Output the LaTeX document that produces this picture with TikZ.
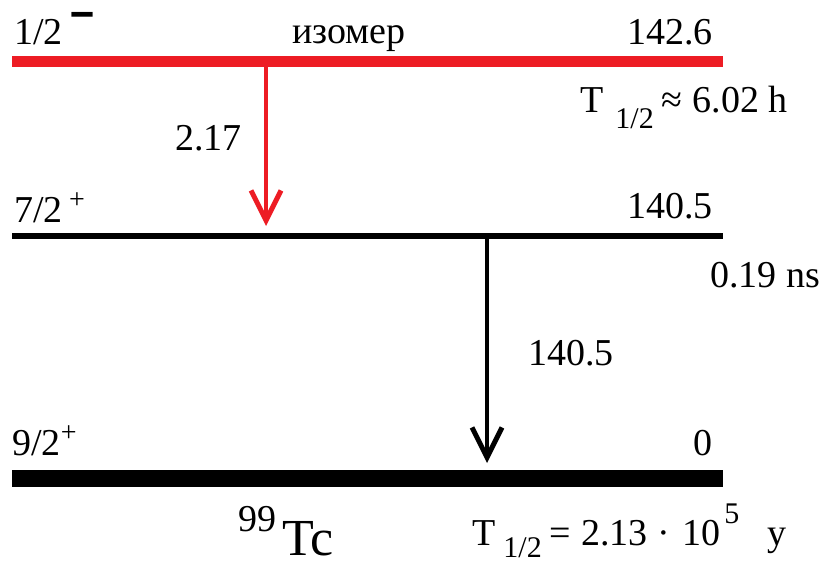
\documentclass[tikz,border=0pt]{standalone}
\usepackage{fontspec}
\newfontfamily\libser{Liberation Serif}
\usepackage{xcolor}
\usetikzlibrary{arrows.meta, positioning}
\definecolor{isored}{HTML}{ED1C24}

\begin{document}
\begin{tikzpicture}[x=1pt, y=-1pt, every node/.style={inner sep=0pt, anchor=base west, font=\libser\fontsize{38}{42}\selectfont}, gam/.style={line width=4pt, -{Straight Barb[length=30pt, width=30pt, line width=5pt]}}]
    \useasboundingbox (0,0) rectangle (823,562);

    % Levels
    \draw[isored, line width=11pt] (12,61) coordinate (iso-l) -- (723,61) coordinate (iso-r);
    \draw[line width=6pt] (12,236) coordinate (mid-l) -- (723,236) coordinate (mid-r);
    \draw[line width=17pt] (12,478) coordinate (gs-l) -- (723,478) coordinate (gs-r);

    % Spins
    \node (jp1) at (14,45) {1/2\,\raisebox{8pt}{\scalebox{1.2}[1.8]{\bfseries −}}};
    \node (jp2) at (14,222) {7/2\,\raisebox{14pt}{\fontsize{28}{28}\selectfont +}};
    \node (jp3) at (12,455) {9/2\raisebox{14pt}{\fontsize{28}{28}\selectfont +}};

    % Energies
    \node (en1) [anchor=base east] at (713,45) {142.6};
    \node (en2) [anchor=base east] at (713,218) {140.5};
    \node (en3) [anchor=base east] at (713,455) {0};
    \node (iso) [anchor=base] at (349,43) {изомер};

    % Half-lives
    \node (th1) at (580,112) {T\hspace{12pt}\raisebox{-16pt}{\fontsize{30}{30}\selectfont 1/2}\hspace{8pt}≈\hspace{10pt}6.02 h};
    \node (th2) [anchor=base east] at (820,287) {0.19 ns};
    \node (th3) at (472,545) {T\hspace{8pt}\raisebox{-12pt}{\fontsize{30}{30}\selectfont 1/2}\hspace{8pt}=\hspace{10pt}2.13\hspace{10pt}·\hspace{12pt}10\hspace{4pt}\raisebox{22pt}{\fontsize{30}{30}\selectfont 5}\hspace{28pt}y};
    \node (nuc) at (238,555) {\raisebox{24pt}{99}\,\fontsize{52}{52}\selectfont Tc};

    % Transitions
    \coordinate (g1a) at (266,66);
    \coordinate (g1b) at (266,226);
    \coordinate (g2a) at (487,238);
    \coordinate (g2b) at (487,463);
    \draw[gam, isored] (g1a) -- (g1b);
    \draw[gam] (g2a) -- (g2b);
    \node (e1) at (175,150) {2.17};
    \node (e2) at (528,365) {140.5};
\end{tikzpicture}
\end{document}
